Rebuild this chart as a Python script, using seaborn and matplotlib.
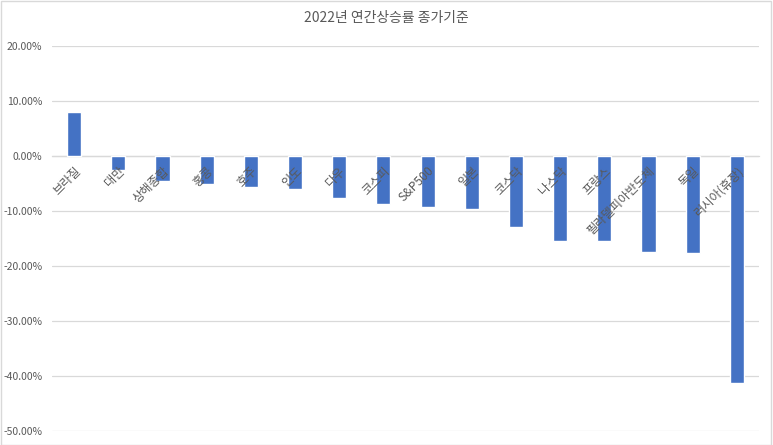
import matplotlib
matplotlib.use("Agg")
import matplotlib.pyplot as plt
import seaborn as sns
import pandas as pd
from matplotlib.ticker import FuncFormatter, MultipleLocator
from matplotlib.patches import Rectangle

categories = ["브라질", "대만", "상해종합", "홍콩", "호주", "인도", "다우", "코스피",
              "S&P500", "일본", "코스닥", "나스닥", "프랑스", "필라델피아반도체", "독일", "러시아(휴장)"]
returns = [0.0795, -0.026, -0.046, -0.051, -0.056, -0.060, -0.076, -0.088,
           -0.093, -0.097, -0.1285, -0.155, -0.155, -0.175, -0.177, -0.413]
title = "2022년 연간상승률 종가기준"

sns.set_theme(style="white")
plt.rcParams['font.family'] = ['Noto Sans CJK KR', 'DejaVu Sans']

df = pd.DataFrame({"category": categories, "value": returns})

fig = plt.figure(figsize=(7.73, 4.45), dpi=100)
ax = fig.add_axes([52/773, 1-431/445, (759-52)/773, (431-46)/445])

sns.barplot(data=df, x="category", y="value", color="#4472C4", saturation=1,
            width=0.32, ax=ax, zorder=2)

ax.set_ylim(-0.5, 0.2)
ax.set_xlim(-0.5, len(categories) - 0.5)
ax.yaxis.set_major_locator(MultipleLocator(0.1))
ax.yaxis.set_major_formatter(FuncFormatter(lambda v, p: f"{v*100:.2f}%"))
ax.grid(axis="y", color="#D9D9D9", linewidth=0.9)
ax.set_axisbelow(True)
ax.xaxis.set_zorder(5)
for s in ["top", "right", "left"]:
    ax.spines[s].set_visible(False)
ax.spines["bottom"].set_position(("data", 0))
ax.spines["bottom"].set_color("#D9D9D9")
ax.spines["bottom"].set_linewidth(0.9)
ax.spines["bottom"].set_zorder(1)
ax.set_xlabel("")
ax.set_ylabel("")
ax.tick_params(axis="y", length=0, labelsize=7.5, labelcolor="#595959", pad=7)
ax.tick_params(axis="x", length=0, labelsize=8.8, labelcolor="#595959", pad=6)
for lbl in ax.get_xticklabels():
    lbl.set_rotation(45)
    lbl.set_ha("right")
    lbl.set_rotation_mode("anchor")

fig.text(0.5, 1 - 18/445, title, ha="center", va="center", fontsize=10, color="#595959")
fig.add_artist(Rectangle((0.001, 0.001), 0.997, 0.997, transform=fig.transFigure,
                         fill=False, edgecolor="#D9D9D9", linewidth=1))

fig.savefig("out.png", dpi=100)
